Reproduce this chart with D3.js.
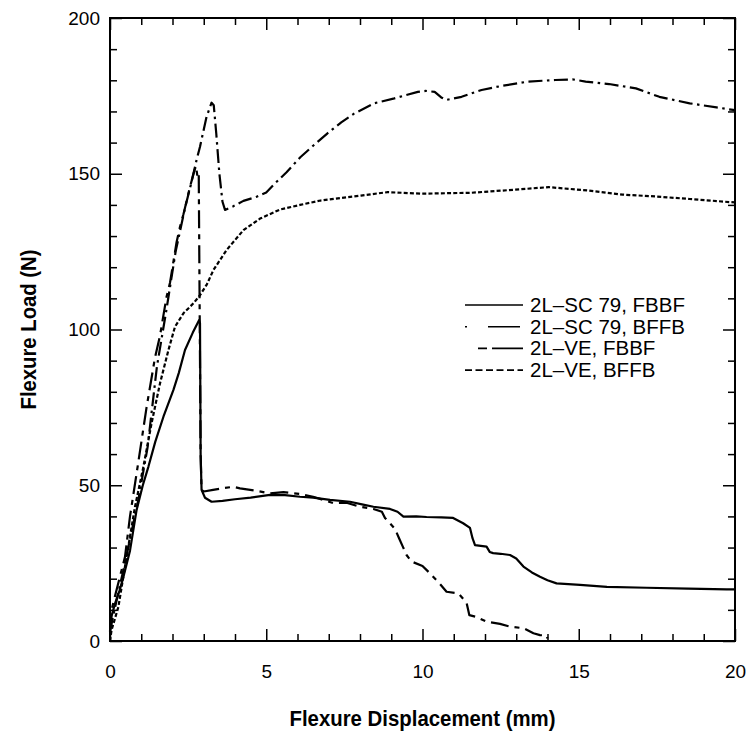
<!DOCTYPE html>
<html>
<head>
<meta charset="utf-8">
<script src="https://cdn.jsdelivr.net/npm/d3@7"></script>
<style>
  html, body { margin: 0; padding: 0; background: #fff; }
  svg { display: block; }
  text { font-family: "Liberation Sans", Arial, Helvetica, sans-serif; fill: #000; }
</style>
</head>
<body>
<svg id="chart" width="748" height="736"></svg>
<script>
// ---- data ----
const xTicksMajor = [0, 5, 10, 15, 20];
const yTicksMajor = [0, 50, 100, 150, 200];
const xLabel = "Flexure Displacement (mm)";
const yLabel = "Flexure Load (N)";
const seriesNames = ["2L\u2013SC 79, FBBF", "2L\u2013SC 79, BFFB", "2L\u2013VE, FBBF", "2L\u2013VE, BFFB"];

const scFbbfX = [0, 0.05, 0.16, 0.3, 0.43, 0.64, 0.85, 1.05, 1.23, 1.45, 1.71, 2.03, 2.2, 2.4, 2.65, 2.85, 2.88, 2.9, 2.93, 3.04, 3.25, 3.6, 4.0, 4.5, 5.12, 5.6, 6.08, 6.5, 7.04, 7.68, 8.1, 8.43, 8.96, 9.2, 9.39, 9.8, 10.13, 10.6, 10.98, 11.3, 11.52, 11.6, 11.68, 12.05, 12.15, 12.26, 12.5, 12.8, 13.0, 13.23, 13.5, 13.76, 14.0, 14.29, 15.04, 15.9, 17.17, 18.5, 19.73, 20];
const scFbbfY = [4, 8, 12, 16, 20.6, 29, 42, 50, 56, 64, 72, 80.6, 86, 93.4, 99, 103, 102, 60, 48.5, 46, 44.7, 45, 45.5, 46, 46.9, 46.8, 46.3, 46, 45.3, 44.7, 43.8, 43.1, 42.4, 41.5, 39.9, 40, 39.8, 39.7, 39.5, 37.8, 36.3, 33, 30.8, 30.3, 28.6, 28.2, 28, 27.6, 26.5, 23.9, 22, 20.6, 19.5, 18.5, 18, 17.4, 17.1, 16.8, 16.6, 16.6];

const scBffbX = [0, 0.1, 0.5, 0.9, 1.2, 1.5, 1.8, 2.1, 2.4, 2.6, 2.77, 2.88, 3.09, 3.25, 3.32, 3.4, 3.5, 3.6, 3.68, 3.95, 4.27, 4.69, 5.0, 5.24, 5.65, 6.09, 6.5, 6.95, 7.4, 7.81, 8.45, 9.1, 9.85, 10.1, 10.39, 10.6, 10.76, 11.25, 11.89, 12.53, 13.39, 14.25, 14.8, 15.22, 15.97, 16.83, 17.58, 18.55, 19.41, 19.94, 20];
const scBffbY = [3, 8, 26, 45, 62, 88, 106, 125, 139, 147, 154.4, 158.7, 168.3, 172.8, 172, 163, 150, 141, 138.4, 139.6, 141.3, 142.6, 144, 146.5, 150.5, 155.3, 159, 162.9, 166.5, 169.3, 172.6, 174.2, 176.3, 176.6, 176.3, 174.5, 173.7, 174.7, 176.9, 178.2, 179.6, 180.1, 180.3, 179.6, 178.8, 177.4, 174.7, 172.6, 171.3, 170.5, 170.3];

const veFbbfX = [0, 0.05, 0.25, 0.48, 0.64, 0.9, 1.17, 1.44, 1.6, 1.81, 1.92, 2.13, 2.24, 2.35, 2.56, 2.7, 2.75, 2.8, 2.84, 2.86, 2.9, 2.93, 3.0, 3.3, 3.57, 3.95, 4.16, 4.64, 5.12, 5.55, 6.08, 6.5, 7.14, 7.57, 8.0, 8.43, 8.7, 8.8, 8.96, 9.12, 9.25, 9.37, 9.49, 9.65, 10.0, 10.29, 10.56, 10.77, 11.15, 11.41, 11.5, 11.73, 12.05, 12.48, 12.8, 13.23, 13.55, 13.76, 13.97, 14.0];
const veFbbfY = [3, 10, 18, 27, 40, 57, 75, 91, 98, 110.5, 115, 128, 133, 137, 145.8, 151, 152.5, 149, 150, 120, 60, 48.5, 48, 48.5, 49, 49.5, 49, 48.3, 47.4, 47.8, 47.2, 46.3, 44.3, 44.4, 43.1, 42.4, 41.5, 39.5, 37.8, 36, 33, 30.3, 27.6, 25.5, 24.1, 21.2, 18.3, 15.8, 15.3, 12.3, 8.3, 7.7, 6.2, 5.5, 4.6, 4.1, 2.5, 1.9, 1.7, 0.8];

const veBffbX = [0, 0.05, 0.27, 0.48, 0.8, 1.07, 1.33, 1.6, 1.87, 2.08, 2.35, 2.67, 2.88, 3.1, 3.31, 3.73, 4.27, 4.8, 5.44, 6.08, 6.74, 8.03, 8.89, 9.96, 11.57, 12.97, 14.04, 15.33, 16.4, 17.47, 18.55, 19.84, 20];
const veBffbY = [0, 3.5, 11, 23.9, 43.1, 56, 69.9, 82.7, 93.4, 100.9, 105.2, 108.4, 111, 114.5, 119.1, 125.5, 131.9, 135.6, 138.5, 140, 141.4, 143, 144.1, 143.6, 143.9, 144.9, 145.7, 144.6, 143.3, 142.7, 141.9, 140.9, 140.8];

// ---- layout / styles ----
const L = 110, R = 735, T = 18, B = 641;
const svg = d3.select("#chart");
const x = d3.scaleLinear().domain([0, 20]).range([L, R]);
const y = d3.scaleLinear().domain([0, 200]).range([B, T]);

const series = [
  {name: seriesNames[0], xs: scFbbfX, ys: scFbbfY, dash: null,           legDash: null},
  {name: seriesNames[1], xs: scBffbX, ys: scBffbY, dash: "14,4.5,2.5,4.5", legDash: "2,21,32,100"},
  {name: seriesNames[2], xs: veFbbfX, ys: veFbbfY, dash: "18,6,5,6",     legDash: "0,13,9,5,32,100"},
  {name: seriesNames[3], xs: veBffbX, ys: veBffbY, dash: "4,2.2",        legDash: "7,3.5"}
];

// ---- axes (inward ticks) ----
const xMinor = d3.range(0, 21, 1).filter(v => v % 5 !== 0);
const yMinor = d3.range(0, 201, 10).filter(v => v % 50 !== 0);

function styleAxis(g) {
  g.select(".domain").remove();
  g.selectAll("line").attr("stroke", "#000").attr("stroke-width", 1.5);
  g.selectAll("text").style("font-size", "19px").attr("fill", "#000");
}

svg.append("g").attr("transform", `translate(0,${B})`)
  .call(d3.axisBottom(x).tickValues(xMinor).tickSize(-7).tickFormat(""))
  .call(styleAxis);
svg.append("g").attr("transform", `translate(0,${B})`)
  .call(d3.axisBottom(x).tickValues(xTicksMajor).tickSize(-12).tickPadding(24).tickFormat(d3.format("d")))
  .call(styleAxis);
svg.append("g").attr("transform", `translate(0,${T})`)
  .call(d3.axisTop(x).tickValues(xMinor).tickSize(-7).tickFormat(""))
  .call(styleAxis);
svg.append("g").attr("transform", `translate(0,${T})`)
  .call(d3.axisTop(x).tickValues(xTicksMajor).tickSize(-12).tickFormat(""))
  .call(styleAxis);

svg.append("g").attr("transform", `translate(${L},0)`)
  .call(d3.axisLeft(y).tickValues(yMinor).tickSize(-7).tickFormat(""))
  .call(styleAxis);
svg.append("g").attr("transform", `translate(${L},0)`)
  .call(d3.axisLeft(y).tickValues(yTicksMajor).tickSize(-12).tickPadding(10).tickFormat(d3.format("d")))
  .call(styleAxis);
svg.append("g").attr("transform", `translate(${R},0)`)
  .call(d3.axisRight(y).tickValues(yMinor).tickSize(-7).tickFormat(""))
  .call(styleAxis);
svg.append("g").attr("transform", `translate(${R},0)`)
  .call(d3.axisRight(y).tickValues(yTicksMajor).tickSize(-12).tickFormat(""))
  .call(styleAxis);

// frame
svg.append("rect").attr("x", L).attr("y", T).attr("width", R - L).attr("height", B - T)
  .attr("fill", "none").attr("stroke", "#000").attr("stroke-width", 2);

// ---- curves ----
const line = d3.line().x(d => x(d[0])).y(d => y(d[1]));
series.forEach(s => {
  const pts = s.xs.map((v, i) => [v, s.ys[i]]);
  svg.append("path").datum(pts)
    .attr("d", line)
    .attr("fill", "none")
    .attr("stroke", "#000")
    .attr("stroke-width", 2.2)
    .attr("stroke-linejoin", "round")
    .attr("stroke-dasharray", s.dash);
});

// ---- legend ----
const leg = svg.append("g");
series.forEach((s, i) => {
  const yy = 305 + i * 21.7;
  leg.append("line").attr("x1", 465).attr("x2", 523).attr("y1", yy).attr("y2", yy)
    .attr("stroke", "#000").attr("stroke-width", 1.6)
    .attr("stroke-dasharray", s.legDash);
  leg.append("text").attr("x", 530).attr("y", yy + 7)
    .style("font-size", "20.5px").text(s.name);
});

// ---- axis titles ----
const titleFont = '"Liberation Sans Narrow", "Arial Narrow", "Liberation Sans", Arial, sans-serif';
svg.append("text")
  .attr("x", (L + R) / 2).attr("y", 726)
  .attr("text-anchor", "middle")
  .style("font-family", titleFont).style("font-weight", "bold").style("font-size", "22px")
  .attr("textLength", 266).attr("lengthAdjust", "spacingAndGlyphs")
  .text(xLabel);
svg.append("text")
  .attr("transform", `translate(36,${(T + B) / 2}) rotate(-90)`)
  .attr("text-anchor", "middle")
  .style("font-family", titleFont).style("font-weight", "bold").style("font-size", "22px")
  .attr("textLength", 160).attr("lengthAdjust", "spacingAndGlyphs")
  .text(yLabel);
</script>
</body>
</html>
